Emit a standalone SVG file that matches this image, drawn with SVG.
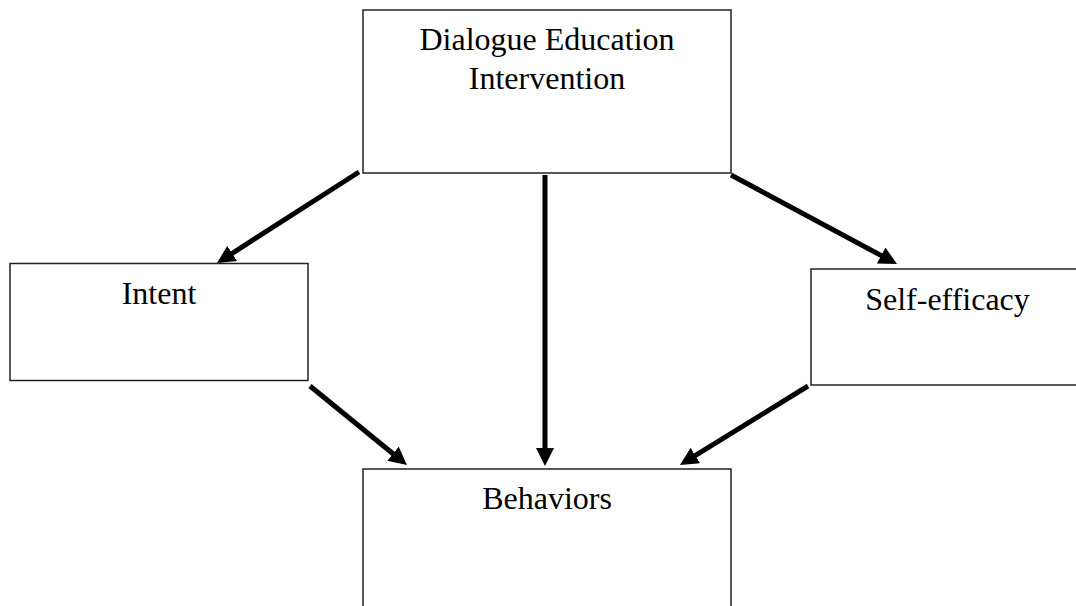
<svg xmlns="http://www.w3.org/2000/svg" width="1076" height="606" viewBox="0 0 1076 606">
<style>
.box{fill:#fff;stroke:#222;stroke-width:1.5}
.lbl{font-family:"Liberation Serif","Times New Roman",serif;font-size:32px;fill:#000;text-anchor:middle}
.arr{stroke:#000;stroke-width:5;fill:none;marker-end:url(#ah)}
</style>
<defs>
<marker id="ah" markerUnits="userSpaceOnUse" markerWidth="18" markerHeight="18" refX="4" refY="9" orient="auto" viewBox="0 0 18 18">
<path d="M0,0 L18,9 L0,18 z" fill="#000"/>
</marker>
</defs>
<rect width="1076" height="606" fill="#fff"/>
<g id="node-intervention">
<rect class="box" x="363" y="10" width="368" height="163"/>
<text class="lbl" x="547" y="50">Dialogue Education</text>
<text class="lbl" x="547" y="89">Intervention</text>
</g>
<g id="node-intent">
<rect class="box" x="10" y="263.5" width="298" height="117"/>
<text class="lbl" x="159" y="304">Intent</text>
</g>
<g id="node-selfefficacy">
<rect class="box" x="811" y="269" width="273" height="116"/>
<text class="lbl" x="947.5" y="310">Self-efficacy</text>
</g>
<g id="node-behaviors">
<rect class="box" x="363" y="469" width="368" height="150"/>
<text class="lbl" x="547" y="509">Behaviors</text>
</g>
<g id="connectors">
<line class="arr" x1="359" y1="172" x2="228.8" y2="255.5"/>
<line class="arr" x1="545" y1="175" x2="545" y2="452"/>
<line class="arr" x1="731" y1="175" x2="884.7" y2="257.4"/>
<line class="arr" x1="310" y1="386" x2="396.1" y2="456.2"/>
<line class="arr" x1="808" y1="386" x2="691.9" y2="457.6"/>
</g>
</svg>
